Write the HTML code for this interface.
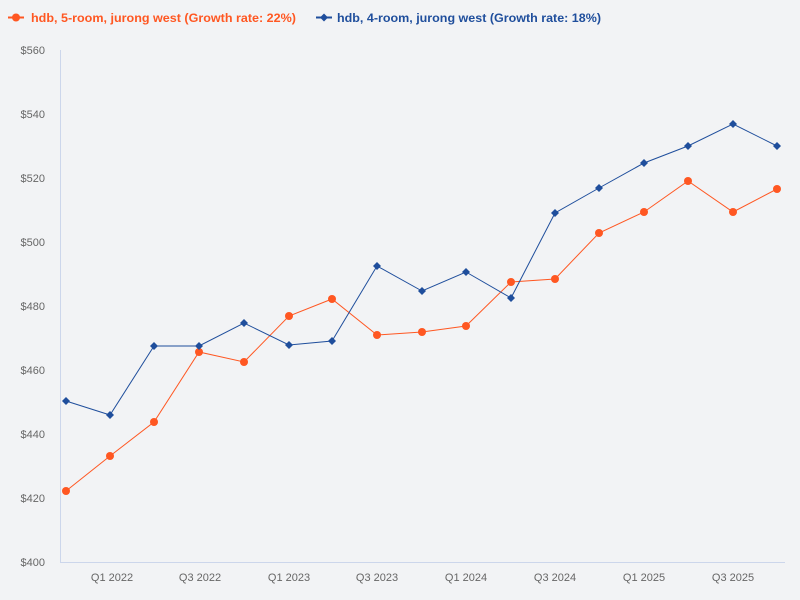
<!DOCTYPE html>
<html><head><style>
html,body{margin:0;padding:0;background:#f2f3f5;}
svg{display:block;font-family:"Liberation Sans",sans-serif;}
</style></head><body>
<svg width="800" height="600" xmlns="http://www.w3.org/2000/svg">
<rect width="800" height="600" fill="#f2f3f5"/>
<g font-size="11" fill="#666" text-anchor="end">
<text x="45" y="54">$560</text><text x="45" y="118">$540</text><text x="45" y="182">$520</text><text x="45" y="246">$500</text>
<text x="45" y="310">$480</text><text x="45" y="374">$460</text><text x="45" y="438">$440</text><text x="45" y="502">$420</text><text x="45" y="566">$400</text>
</g>
<line x1="60.5" y1="50" x2="60.5" y2="562" stroke="#ccd6eb"/>
<line x1="60" y1="562.5" x2="785" y2="562.5" stroke="#ccd6eb"/>
<g font-size="11" fill="#666" text-anchor="middle">
<text x="112" y="581">Q1 2022</text><text x="200" y="581">Q3 2022</text><text x="289" y="581">Q1 2023</text><text x="377" y="581">Q3 2023</text>
<text x="466" y="581">Q1 2024</text><text x="555" y="581">Q3 2024</text><text x="644" y="581">Q1 2025</text><text x="733" y="581">Q3 2025</text>
</g>
<polyline fill="none" stroke="#ff5722" stroke-width="1" points="66,491 110,456 154,422 199,352 244,362 289,316 332,299 377,335 422,332 466,326 511,282 555,279 599,233 644,212 688,181 733,212 777,189"/>
<g fill="#ff5722">
<circle cx="66" cy="491" r="4"/><circle cx="110" cy="456" r="4"/><circle cx="154" cy="422" r="4"/><circle cx="199" cy="352" r="4"/><circle cx="244" cy="362" r="4"/><circle cx="289" cy="316" r="4"/><circle cx="332" cy="299" r="4"/><circle cx="377" cy="335" r="4"/><circle cx="422" cy="332" r="4"/><circle cx="466" cy="326" r="4"/><circle cx="511" cy="282" r="4"/><circle cx="555" cy="279" r="4"/><circle cx="599" cy="233" r="4"/><circle cx="644" cy="212" r="4"/><circle cx="688" cy="181" r="4"/><circle cx="733" cy="212" r="4"/><circle cx="777" cy="189" r="4"/>
</g>
<polyline fill="none" stroke="#1f4e9c" stroke-width="1" points="66,401 110,415 154,346 199,346 244,323 289,345 332,341 377,266 422,291 466,272 511,298 555,213 599,188 644,163 688,146 733,124 777,146"/>
<g fill="#1f4e9c">
<path d="M66,397l4,4l-4,4l-4,-4z"/><path d="M110,411l4,4l-4,4l-4,-4z"/><path d="M154,342l4,4l-4,4l-4,-4z"/><path d="M199,342l4,4l-4,4l-4,-4z"/><path d="M244,319l4,4l-4,4l-4,-4z"/><path d="M289,341l4,4l-4,4l-4,-4z"/><path d="M332,337l4,4l-4,4l-4,-4z"/><path d="M377,262l4,4l-4,4l-4,-4z"/><path d="M422,287l4,4l-4,4l-4,-4z"/><path d="M466,268l4,4l-4,4l-4,-4z"/><path d="M511,294l4,4l-4,4l-4,-4z"/><path d="M555,209l4,4l-4,4l-4,-4z"/><path d="M599,184l4,4l-4,4l-4,-4z"/><path d="M644,159l4,4l-4,4l-4,-4z"/><path d="M688,142l4,4l-4,4l-4,-4z"/><path d="M733,120l4,4l-4,4l-4,-4z"/><path d="M777,142l4,4l-4,4l-4,-4z"/>
</g>
<line x1="8" y1="17.5" x2="24" y2="17.5" stroke="#ff5722" stroke-width="2"/><circle cx="16" cy="17.5" r="4" fill="#ff5722"/>
<text x="31" y="22" font-size="12" font-weight="bold" fill="#ff5722" textLength="265" lengthAdjust="spacingAndGlyphs">hdb, 5-room, jurong west (Growth rate: 22%)</text>
<line x1="316" y1="17.5" x2="332" y2="17.5" stroke="#1f4e9c" stroke-width="2"/><path d="M324,13.5l4,4l-4,4l-4,-4z" fill="#1f4e9c"/>
<text x="337" y="22" font-size="12" font-weight="bold" fill="#1f4e9c" textLength="264" lengthAdjust="spacingAndGlyphs">hdb, 4-room, jurong west (Growth rate: 18%)</text>
</svg>
</body></html>
